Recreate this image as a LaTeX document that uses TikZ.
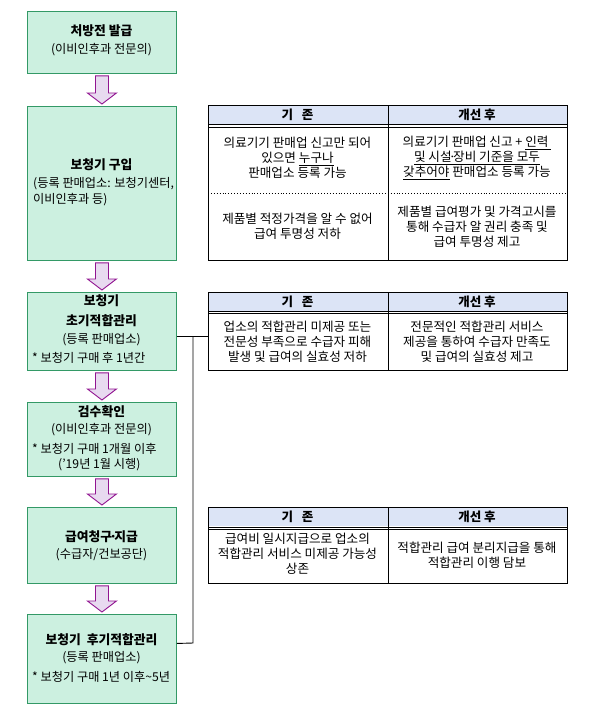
\documentclass[tikz,border=0pt]{standalone}
\usepackage{fontspec}
\setmainfont{Noto Sans CJK KR}
\usetikzlibrary{calc}
\definecolor{boxfill}{RGB}{204,240,224}
\definecolor{boxline}{RGB}{51,153,102}
\definecolor{arrfill}{RGB}{232,218,240}
\definecolor{arrline}{RGB}{145,20,145}
\definecolor{headfill}{RGB}{220,228,246}
\newcommand\mdot{\kern-0.22em·\kern-0.22em}
\newcommand\dnarrow[2]{%
  \path let \p1=(#1.south), \p2=(#2.north) in
    [arrowbody] (\x1-6.5pt,\y1-2pt) -- (\x1+6.5pt,\y1-2pt) -- (\x1+6.5pt,\y2+13pt)
    -- (\x1+14.5pt,\y2+13pt) -- (\x1,\y2+2pt) -- (\x1-14.5pt,\y2+13pt)
    -- (\x1-6.5pt,\y2+13pt) -- cycle;}
\begin{document}
\begin{tikzpicture}[x=1pt,y=-1pt,
  stepbox/.style={draw=boxline,fill=boxfill,line width=0.9pt,minimum width=149pt,anchor=north west,inner sep=0pt},
  arrowbody/.style={draw=arrline,fill=arrfill,line width=0.9pt,line join=miter},
  tablebox/.style={draw=black,line width=0.9pt,minimum width=359pt,anchor=north west,inner sep=0pt},
  headbox/.style={fill=headfill,minimum width=359pt,minimum height=19pt,anchor=north west,inner sep=0pt},
  ttl/.style={font=\fontsize{12.8}{15}\selectfont\bfseries,inner sep=0pt},
  sub/.style={font=\fontsize{12.2}{15}\selectfont,inner sep=0pt},
  subl/.style={sub,anchor=west},
  hd/.style={font=\fontsize{12.5}{14}\selectfont\bfseries,inner sep=0pt},
  cell/.style={font=\fontsize{12.6}{15.2}\selectfont,align=center,inner sep=0pt},
  conn/.style={draw=black,line width=0.9pt}]
\useasboundingbox (0,0) rectangle (611,721);
\fill[white] (0,0) rectangle (611,721);

% left column boxes
\node[stepbox,minimum height=62pt] (b1) at (27,11) {};
\node[stepbox,minimum height=154pt] (b2) at (27,106) {};
\node[stepbox,minimum height=78pt] (b3) at (27,292) {};
\node[stepbox,minimum height=74pt] (b4) at (27,402) {};
\node[stepbox,minimum height=76pt] (b5) at (27,507) {};
\node[stepbox,minimum height=89pt] (b6) at (27,614) {};

\dnarrow{b1}{b2}
\dnarrow{b2}{b3}
\dnarrow{b3}{b4}
\dnarrow{b4}{b5}
\dnarrow{b5}{b6}

% box texts
\node[ttl] (b1a) at (101.5,31) {처방전 발급};
\node[sub] (b1b) at (101.5,50) {(이비인후과 전문의)};

\node[ttl] (b2a) at (101.5,165) {보청기 구입};
\node[subl] (b2b) at (33,184) {(등록 판매업소: 보청기센터,};
\node[subl] (b2c) at (33,200) {이비인후과 등)};

\node[ttl] (b3a) at (101.5,301) {보청기};
\node[ttl] (b3b) at (101.5,321) {초기적합관리};
\node[sub] (b3c) at (101.5,340) {(등록 판매업소)};
\node[subl] (b3d) at (32,358) {* 보청기 구매 후 1년간};

\node[ttl] (b4a) at (101.5,412) {검수확인};
\node[sub] (b4b) at (101.5,430) {(이비인후과 전문의)};
\node[subl] (b4c) at (32,449) {* 보청기 구매 1개월 이후};
\node[subl] (b4d) at (58,465) {(’19년 1월 시행)};

\node[ttl] (b5a) at (101.5,537) {급여청구\mdot 지급};
\node[sub] (b5b) at (101.5,555) {(수급자/건보공단)};

\node[ttl] (b6a) at (101.5,640) {보청기 \ 후기적합관리};
\node[sub] (b6b) at (101.5,658) {(등록 판매업소)};
\node[subl] (b6c) at (32,677) {* 보청기 구매 1년 이후\textasciitilde 5년};

% table 1
\node[headbox] (t1h) at (208,105) {};
\node[tablebox,minimum height=155pt] (t1) at (208,105) {};
\draw[conn] (t1.north) -- (t1.south);
\draw[conn] (208,124) -- (567,124);
\draw[conn] (208,127) -- (567,127);
\draw[conn,dotted] (208,193) -- (567,193);
\node[hd] (t1k) at (297.5,115) {기 \ \ 존};
\node[hd] (t1g) at (477,115) {개선 후};
\node[cell] (t1c1) at (297.5,158) {의료기기 판매업 신고만 되어\\있으면 \underline{누구나}\\판매업소 등록 가능};
\node[cell] (t1c2) at (477,158) {의료기기 판매업 신고 + \underline{인력\ }\\\underline{및 시설\mdot 장비 기준을 모두}\\\underline{갖추어야} 판매업소 등록 가능};
\node[cell] (t1c3) at (297.5,226) {제품별 적정가격을 알 수 없어\\급여 투명성 저하};
\node[cell] (t1c4) at (477,227) {제품별 급여평가 및 가격고시를\\통해 수급자 알 권리 충족 및\\급여 투명성 제고};

% table 2
\node[headbox] (t2h) at (208,292) {};
\node[tablebox,minimum height=78pt] (t2) at (208,292) {};
\draw[conn] (t2.north) -- (t2.south);
\draw[conn] (208,311) -- (567,311);
\draw[conn] (208,313.5) -- (567,313.5);
\node[hd] (t2k) at (297.5,302) {기 \ \ 존};
\node[hd] (t2g) at (477,302) {개선 후};
\node[cell] (t2c1) at (297.5,342) {업소의 적합관리 미제공 또는\\전문성 부족으로 수급자 피해\\발생 및 급여의 실효성 저하};
\node[cell] (t2c2) at (477,342) {전문적인 적합관리 서비스\\제공을 통하여 수급자 만족도\\및 급여의 실효성 제고};

% table 3
\node[headbox] (t3h) at (208,507) {};
\node[tablebox,minimum height=76pt] (t3) at (208,507) {};
\draw[conn] (t3.north) -- (t3.south);
\draw[conn] (208,527) -- (567,527);
\draw[conn] (208,529.5) -- (567,529.5);
\node[hd] (t3k) at (297.5,517) {기 \ \ 존};
\node[hd] (t3g) at (477,517) {개선 후};
\node[cell] (t3c1) at (297.5,554) {급여비 일시지급으로 업소의\\적합관리 서비스 미제공 가능성\\상존};
\node[cell] (t3c2) at (477,555) {적합관리 급여 분리지급을 통해\\적합관리 이행 담보};

% connectors
\coordinate (j1) at (193,336);
\coordinate (j2) at (193,643);
\draw[conn] ([yshift=-5pt]b3.east) -- ([yshift=-5pt]t2.west);
\draw[conn] (j1) -- (j2) -- ([yshift=15.5pt]b6.east);
\end{tikzpicture}
\end{document}
